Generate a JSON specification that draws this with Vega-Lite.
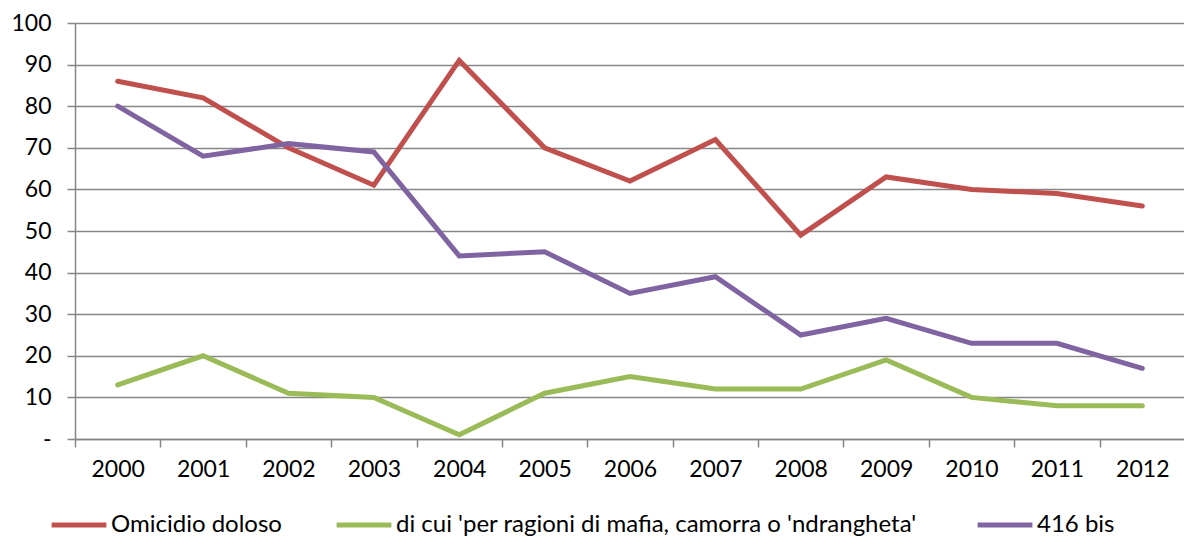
{
  "$schema": "https://vega.github.io/schema/vega-lite/v6.json",
  "autosize": {"type": "none"},
  "width": 1110,
  "height": 416,
  "padding": {"left": 75, "top": 23, "right": 0, "bottom": 106},
  "background": "white",
  "config": {
    "font": "Lato",
    "view": {"stroke": null}
  },
  "data": {
    "values": [
      {"anno": "2000", "serie": "Omicidio doloso", "valore": 86},
      {"anno": "2001", "serie": "Omicidio doloso", "valore": 82},
      {"anno": "2002", "serie": "Omicidio doloso", "valore": 70},
      {"anno": "2003", "serie": "Omicidio doloso", "valore": 61},
      {"anno": "2004", "serie": "Omicidio doloso", "valore": 91},
      {"anno": "2005", "serie": "Omicidio doloso", "valore": 70},
      {"anno": "2006", "serie": "Omicidio doloso", "valore": 62},
      {"anno": "2007", "serie": "Omicidio doloso", "valore": 72},
      {"anno": "2008", "serie": "Omicidio doloso", "valore": 49},
      {"anno": "2009", "serie": "Omicidio doloso", "valore": 63},
      {"anno": "2010", "serie": "Omicidio doloso", "valore": 60},
      {"anno": "2011", "serie": "Omicidio doloso", "valore": 59},
      {"anno": "2012", "serie": "Omicidio doloso", "valore": 56},
      {"anno": "2000", "serie": "di cui  'per ragioni di mafia, camorra o 'ndrangheta'", "valore": 13},
      {"anno": "2001", "serie": "di cui  'per ragioni di mafia, camorra o 'ndrangheta'", "valore": 20},
      {"anno": "2002", "serie": "di cui  'per ragioni di mafia, camorra o 'ndrangheta'", "valore": 11},
      {"anno": "2003", "serie": "di cui  'per ragioni di mafia, camorra o 'ndrangheta'", "valore": 10},
      {"anno": "2004", "serie": "di cui  'per ragioni di mafia, camorra o 'ndrangheta'", "valore": 1},
      {"anno": "2005", "serie": "di cui  'per ragioni di mafia, camorra o 'ndrangheta'", "valore": 11},
      {"anno": "2006", "serie": "di cui  'per ragioni di mafia, camorra o 'ndrangheta'", "valore": 15},
      {"anno": "2007", "serie": "di cui  'per ragioni di mafia, camorra o 'ndrangheta'", "valore": 12},
      {"anno": "2008", "serie": "di cui  'per ragioni di mafia, camorra o 'ndrangheta'", "valore": 12},
      {"anno": "2009", "serie": "di cui  'per ragioni di mafia, camorra o 'ndrangheta'", "valore": 19},
      {"anno": "2010", "serie": "di cui  'per ragioni di mafia, camorra o 'ndrangheta'", "valore": 10},
      {"anno": "2011", "serie": "di cui  'per ragioni di mafia, camorra o 'ndrangheta'", "valore": 8},
      {"anno": "2012", "serie": "di cui  'per ragioni di mafia, camorra o 'ndrangheta'", "valore": 8},
      {"anno": "2000", "serie": "416 bis", "valore": 80},
      {"anno": "2001", "serie": "416 bis", "valore": 68},
      {"anno": "2002", "serie": "416 bis", "valore": 71},
      {"anno": "2003", "serie": "416 bis", "valore": 69},
      {"anno": "2004", "serie": "416 bis", "valore": 44},
      {"anno": "2005", "serie": "416 bis", "valore": 45},
      {"anno": "2006", "serie": "416 bis", "valore": 35},
      {"anno": "2007", "serie": "416 bis", "valore": 39},
      {"anno": "2008", "serie": "416 bis", "valore": 25},
      {"anno": "2009", "serie": "416 bis", "valore": 29},
      {"anno": "2010", "serie": "416 bis", "valore": 23},
      {"anno": "2011", "serie": "416 bis", "valore": 23},
      {"anno": "2012", "serie": "416 bis", "valore": 17}
    ]
  },
  "mark": {"type": "line", "strokeWidth": 5, "strokeCap": "round", "strokeJoin": "miter"},
  "encoding": {
    "x": {
      "field": "anno",
      "type": "ordinal",
      "scale": {"type": "band", "paddingInner": 0, "paddingOuter": 0},
      "axis": {
        "title": null,
        "labelAngle": 0,
        "labelFontSize": 23,
        "labelColor": "#000000",
        "labelPadding": 11,
        "tickBand": "extent",
        "tickSize": 8,
        "tickColor": "#868686",
        "tickWidth": 1.5,
        "domainColor": "#868686",
        "domainWidth": 1.5,
        "grid": false
      }
    },
    "y": {
      "field": "valore",
      "type": "quantitative",
      "scale": {"domain": [0, 100], "nice": false},
      "axis": {
        "title": null,
        "values": [0, 10, 20, 30, 40, 50, 60, 70, 80, 90, 100],
        "labelExpr": "datum.value == 0 ? '-' : datum.label",
        "labelFontSize": 23,
        "labelColor": "#000000",
        "labelPadding": 16,
        "tickSize": 8,
        "tickColor": "#868686",
        "tickWidth": 1.5,
        "domainColor": "#868686",
        "domainWidth": 1.5,
        "grid": true,
        "gridColor": "#868686",
        "gridWidth": 1.5
      }
    },
    "color": {
      "field": "serie",
      "type": "nominal",
      "scale": {
        "domain": ["Omicidio doloso", "di cui  'per ragioni di mafia, camorra o 'ndrangheta'", "416 bis"],
        "range": ["#C0504D", "#9BBB59", "#8064A2"]
      },
      "legend": {
        "title": null,
        "orient": "none",
        "direction": "horizontal",
        "legendX": -26,
        "legendY": 472,
        "symbolType": "stroke",
        "symbolStrokeWidth": 5,
        "symbolSize": 3000,
        "labelFontSize": 24,
        "labelLimit": 0,
        "labelColor": "#000000",
        "labelOffset": 2,
        "columnPadding": 44,
        "symbolOffset": 0
      }
    }
  }
}
